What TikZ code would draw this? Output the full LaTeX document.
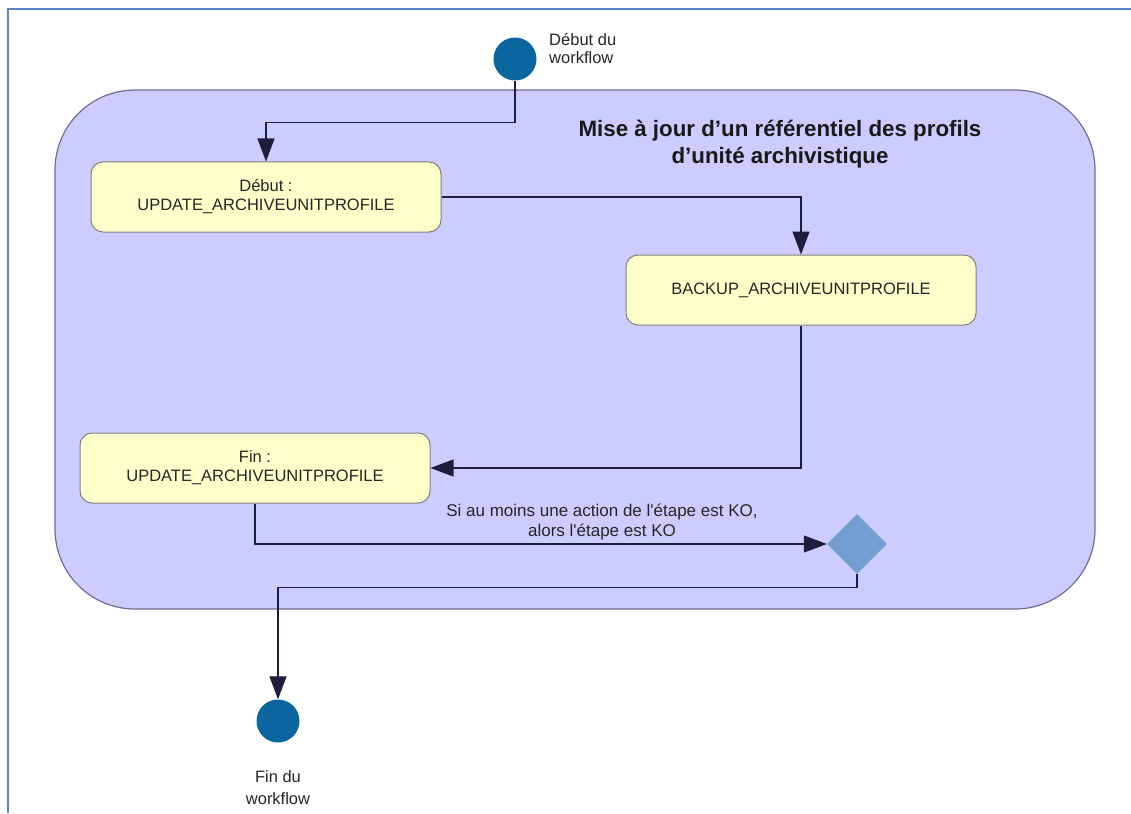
\documentclass[tikz,border=0pt]{standalone}
\usepackage{fontspec}
\setmainfont{Liberation Sans}
\usetikzlibrary{positioning,arrows.meta,shapes.geometric}
\definecolor{grpfill}{HTML}{CCCCFF}
\definecolor{grpdraw}{HTML}{6E6E9A}
\definecolor{stepfill}{HTML}{FFFFCC}
\definecolor{stepdraw}{HTML}{808080}
\definecolor{termfill}{HTML}{0B66A0}
\definecolor{decfill}{HTML}{729FCF}
\definecolor{framecol}{HTML}{5B85C8}
\definecolor{linecol}{HTML}{1E1E3C}
\tikzset{
>={Triangle[length=23pt,width=17pt]},
groupbox/.style={rectangle, rounded corners=80pt, draw=grpdraw, fill=grpfill, line width=1.2pt, minimum width=1040pt, minimum height=519pt},
stepbox/.style={rectangle, rounded corners=12pt, draw=stepdraw, fill=stepfill, line width=1pt, minimum width=350pt, minimum height=70pt, align=center, text=black!85, font=\fontsize{16.5}{19}\selectfont},
terminal/.style={circle, fill=termfill, minimum size=43pt, inner sep=0pt},
decision/.style={diamond, fill=decfill, minimum width=60pt, minimum height=60pt, inner sep=0pt},
line/.style={draw=linecol, line width=1.2pt, ->},
caption/.style={align=left, text=black!85, font=\fontsize{16.5}{18}\selectfont},
}

\begin{document}
\begin{tikzpicture}
[x=1pt, y=-1pt]
\useasboundingbox (0,0) rectangle (1131,813);
\draw[framecol, line width=1.5pt] (1131,9) -- (8,9) -- (8,813);

\node[groupbox] (group) at (575,349.5) {};
\node[align=center, text=black!90, font=\bfseries\fontsize{22.3}{27}\selectfont] (title) at (780,144) {Mise à jour d’un référentiel des profils\\d’unité archivistique};

\node[terminal] (start) at (515,59) {};
\node[caption, right=9pt of start, yshift=10pt] (startlabel) {Début du\\workflow};

\node[stepbox] (debut) at (266,197) {Début :\\UPDATE\_ARCHIVEUNITPROFILE};
\node[stepbox] (backup) at (801,290) {BACKUP\_ARCHIVEUNITPROFILE};
\node[stepbox] (fin) at (255,468) {Fin :\\UPDATE\_ARCHIVEUNITPROFILE};
\node[decision] (check) at (857,544) {};
\node[terminal] (end) at (278,721) {};
\node[caption, align=center, font=\fontsize{16.5}{22}\selectfont, below=24pt of end] (endlabel) {Fin du\\workflow};

\node[caption, align=center, font=\fontsize{17}{19.5}\selectfont] (ko) at (602,522) {Si au moins une action de l\textquotesingle étape est KO,\\alors l\textquotesingle étape est KO};

\path [line] (start.south) -- ++(0,42) -| (debut.north);
\path [line] (debut.east) -| (backup.north);
\path [line] (backup.south) |- (fin.east);
\path [line] (fin.south) |- (check.west);
\path [line] (check.south) -- ++(0,13) -| (end.north);
\end{tikzpicture}
\end{document}
